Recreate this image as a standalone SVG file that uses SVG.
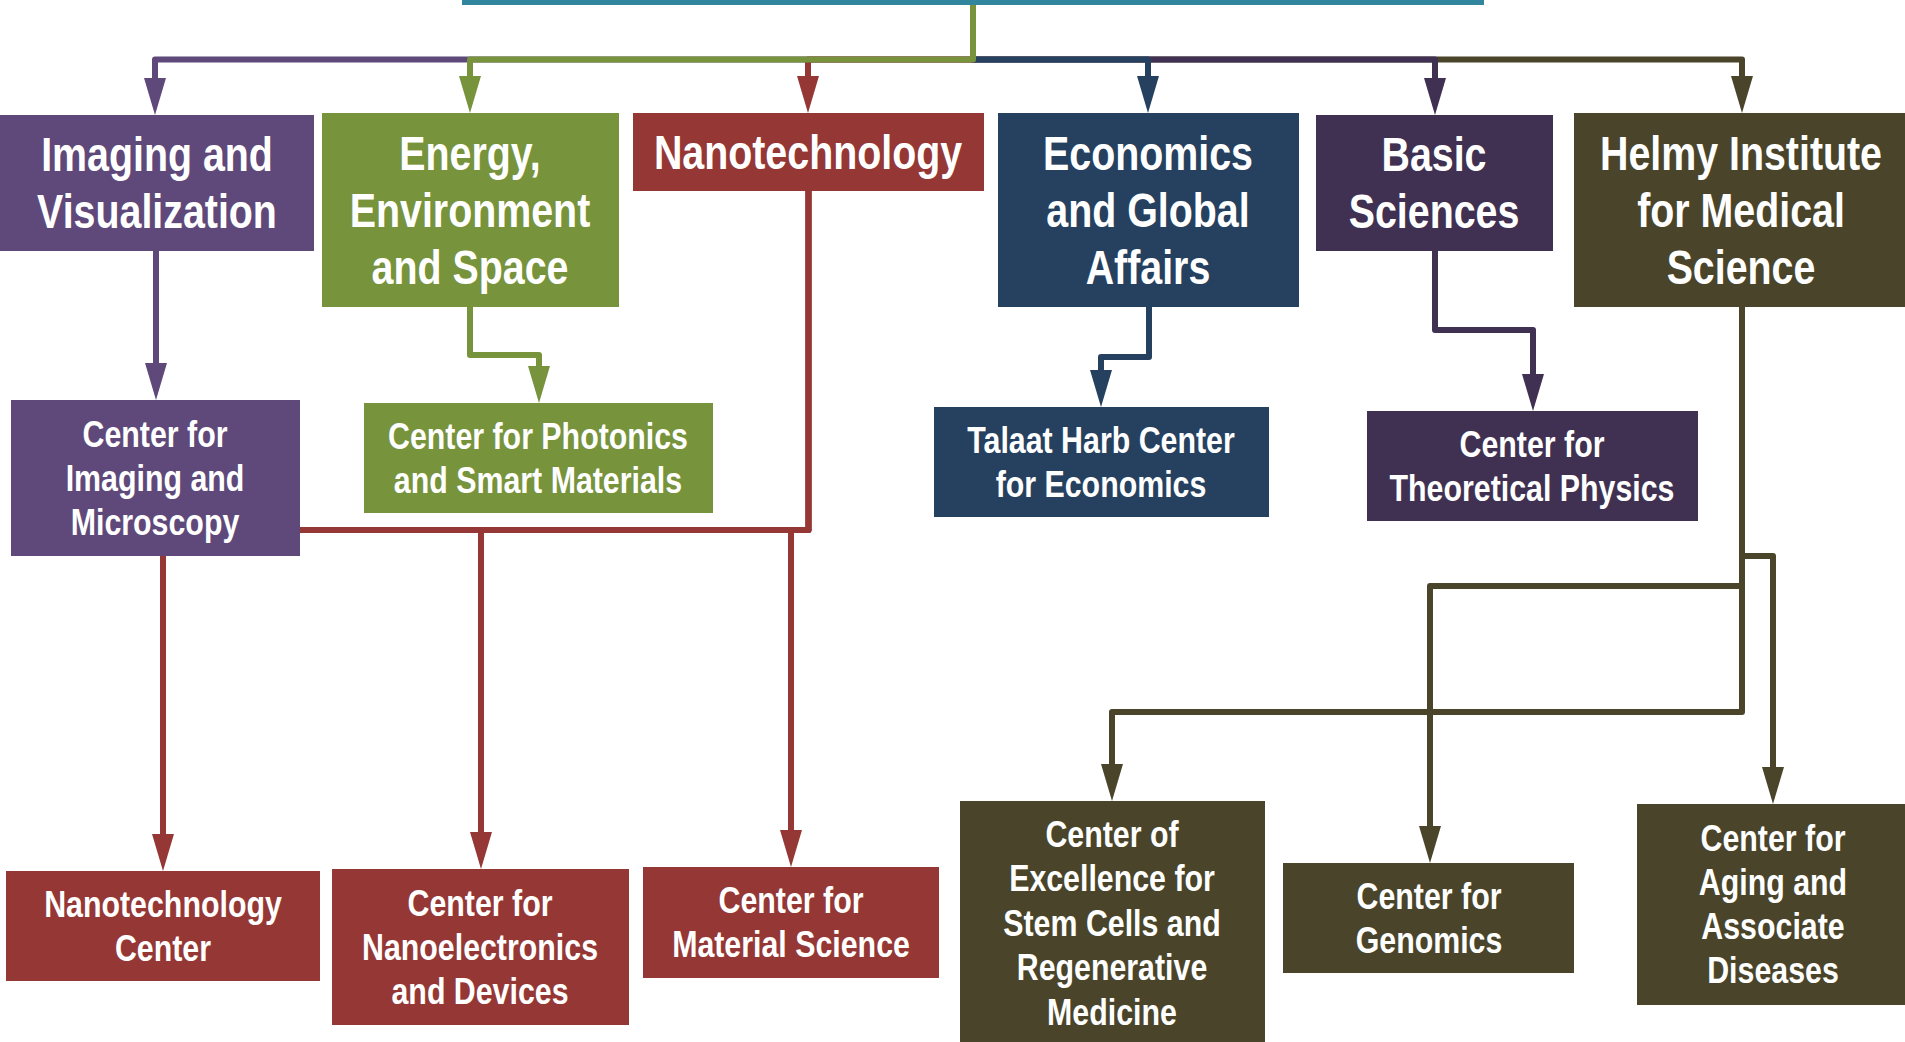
<svg xmlns="http://www.w3.org/2000/svg" width="1905" height="1042" viewBox="0 0 1905 1042">
<style>
text{font-family:"Liberation Sans",Arial,sans-serif;font-weight:bold;fill:#fff;text-anchor:middle}
.t1{font-size:48px}
.t2{font-size:37px}
.c{fill:none;stroke-width:6;stroke-linejoin:round}
.purple{fill:#5F497A}.green{fill:#77933C}.red{fill:#953735}.navy{fill:#264160}.dpur{fill:#403152}.olive{fill:#4A452A}.teal{fill:#31859C}
</style>
<defs>
<marker id="m-purple" markerUnits="userSpaceOnUse" markerWidth="37" markerHeight="22" viewBox="0 0 37 22" refX="0" refY="11" orient="auto"><path d="M0,0 L37,11 L0,22 z" fill="#5F497A"/></marker>
<marker id="m-green" markerUnits="userSpaceOnUse" markerWidth="37" markerHeight="22" viewBox="0 0 37 22" refX="0" refY="11" orient="auto"><path d="M0,0 L37,11 L0,22 z" fill="#77933C"/></marker>
<marker id="m-red" markerUnits="userSpaceOnUse" markerWidth="37" markerHeight="22" viewBox="0 0 37 22" refX="0" refY="11" orient="auto"><path d="M0,0 L37,11 L0,22 z" fill="#953735"/></marker>
<marker id="m-navy" markerUnits="userSpaceOnUse" markerWidth="37" markerHeight="22" viewBox="0 0 37 22" refX="0" refY="11" orient="auto"><path d="M0,0 L37,11 L0,22 z" fill="#264160"/></marker>
<marker id="m-dpur" markerUnits="userSpaceOnUse" markerWidth="37" markerHeight="22" viewBox="0 0 37 22" refX="0" refY="11" orient="auto"><path d="M0,0 L37,11 L0,22 z" fill="#403152"/></marker>
<marker id="m-olive" markerUnits="userSpaceOnUse" markerWidth="37" markerHeight="22" viewBox="0 0 37 22" refX="0" refY="11" orient="auto"><path d="M0,0 L37,11 L0,22 z" fill="#4A452A"/></marker>
</defs>

<g id="connectors">
  <path class="c" stroke="#5F497A" marker-end="url(#m-purple)" d="M973,5 V59.5 H155 V78"/>
  <path class="c" stroke="#4A452A" marker-end="url(#m-olive)" d="M973,5 V59.5 H1742 V76"/>
  <path class="c" stroke="#953735" marker-end="url(#m-red)" d="M973,5 V59.5 H808 V76"/>
  <path class="c" stroke="#403152" marker-end="url(#m-dpur)" d="M973,5 V59.5 H1435 V78"/>
  <path class="c" stroke="#264160" marker-end="url(#m-navy)" d="M973,5 V59.5 H1148 V76"/>
  <path class="c" stroke="#77933C" marker-end="url(#m-green)" d="M973,5 V59.5 H470 V76"/>

  <path class="c" stroke="#5F497A" marker-end="url(#m-purple)" d="M156,251 V363"/>
  <path class="c" stroke="#77933C" marker-end="url(#m-green)" d="M470,307 V355 H539 V366"/>
  <path class="c" stroke="#953735" marker-end="url(#m-red)" d="M808.5,191 V530 H163 V834"/>
  <path class="c" stroke="#953735" marker-end="url(#m-red)" d="M808.5,191 V530 H481 V832"/>
  <path class="c" stroke="#953735" marker-end="url(#m-red)" d="M808.5,191 V530 H791 V830"/>
  <path class="c" stroke="#264160" marker-end="url(#m-navy)" d="M1149,307 V357 H1101 V370"/>
  <path class="c" stroke="#403152" marker-end="url(#m-dpur)" d="M1435,251 V330 H1533 V374"/>
  <path class="c" stroke="#4A452A" marker-end="url(#m-olive)" d="M1742,307 V712 H1112 V764"/>
  <path class="c" stroke="#4A452A" marker-end="url(#m-olive)" d="M1742,307 V556 H1773 V767"/>
  <path class="c" stroke="#4A452A" marker-end="url(#m-olive)" d="M1742,307 V586 H1430 V826"/>
</g>

<g id="root"><rect class="teal" x="462" y="-20" width="1022" height="25"/></g>

<g id="imaging"><rect class="purple" x="0" y="115" width="314" height="136"/>
  <g transform="translate(157,0) scale(0.82,1)"><text class="t1" x="0" y="171.5">Imaging and</text><text class="t1" x="0" y="228.5">Visualization</text></g></g>
<g id="energy"><rect class="green" x="322" y="113" width="297" height="194"/>
  <g transform="translate(470,0) scale(0.82,1)"><text class="t1" x="0" y="170">Energy,</text><text class="t1" x="0" y="227">Environment</text><text class="t1" x="0" y="284">and Space</text></g></g>
<g id="nanotechnology"><rect class="red" x="633" y="113" width="351" height="78"/>
  <g transform="translate(808,0) scale(0.82,1)"><text class="t1" x="0" y="169">Nanotechnology</text></g></g>
<g id="economics"><rect class="navy" x="998" y="113" width="301" height="194"/>
  <g transform="translate(1148,0) scale(0.82,1)"><text class="t1" x="0" y="170">Economics</text><text class="t1" x="0" y="227">and Global</text><text class="t1" x="0" y="284">Affairs</text></g></g>
<g id="basic"><rect class="dpur" x="1316" y="115" width="237" height="136"/>
  <g transform="translate(1434,0) scale(0.82,1)"><text class="t1" x="0" y="171.5">Basic</text><text class="t1" x="0" y="228.5">Sciences</text></g></g>
<g id="helmy"><rect class="olive" x="1574" y="113" width="340" height="194"/>
  <g transform="translate(1741,0) scale(0.82,1)"><text class="t1" x="0" y="170">Helmy Institute</text><text class="t1" x="0" y="227">for Medical</text><text class="t1" x="0" y="284">Science</text></g></g>

<g id="microscopy"><rect class="purple" x="11" y="400" width="289" height="156"/>
  <g transform="translate(155,0) scale(0.82,1)"><text class="t2" x="0" y="447">Center for</text><text class="t2" x="0" y="491">Imaging and</text><text class="t2" x="0" y="535">Microscopy</text></g></g>
<g id="photonics"><rect class="green" x="364" y="403" width="349" height="110"/>
  <g transform="translate(538,0) scale(0.82,1)"><text class="t2" x="0" y="449">Center for Photonics</text><text class="t2" x="0" y="493">and Smart Materials</text></g></g>
<g id="talaat"><rect class="navy" x="934" y="407" width="335" height="110"/>
  <g transform="translate(1101,0) scale(0.82,1)"><text class="t2" x="0" y="453">Talaat Harb Center</text><text class="t2" x="0" y="497">for Economics</text></g></g>
<g id="theoretical"><rect class="dpur" x="1367" y="411" width="331" height="110"/>
  <g transform="translate(1532,0) scale(0.82,1)"><text class="t2" x="0" y="457">Center for</text><text class="t2" x="0" y="501">Theoretical Physics</text></g></g>

<g id="nanocenter"><rect class="red" x="6" y="871" width="314" height="110"/>
  <g transform="translate(163,0) scale(0.82,1)"><text class="t2" x="0" y="917">Nanotechnology</text><text class="t2" x="0" y="961">Center</text></g></g>
<g id="nanoelectronics"><rect class="red" x="332" y="869" width="297" height="156"/>
  <g transform="translate(480,0) scale(0.82,1)"><text class="t2" x="0" y="916">Center for</text><text class="t2" x="0" y="960">Nanoelectronics</text><text class="t2" x="0" y="1004">and Devices</text></g></g>
<g id="material"><rect class="red" x="643" y="867" width="296" height="111"/>
  <g transform="translate(791,0) scale(0.82,1)"><text class="t2" x="0" y="913.5">Center for</text><text class="t2" x="0" y="957.5">Material Science</text></g></g>
<g id="stemcells"><rect class="olive" x="960" y="801" width="305" height="260"/>
  <g transform="translate(1112,0) scale(0.82,1)"><text class="t2" x="0" y="847">Center of</text><text class="t2" x="0" y="891.5">Excellence for</text><text class="t2" x="0" y="936">Stem Cells and</text><text class="t2" x="0" y="980.5">Regenerative</text><text class="t2" x="0" y="1025">Medicine</text></g></g>
<g id="genomics"><rect class="olive" x="1283" y="863" width="291" height="110"/>
  <g transform="translate(1429,0) scale(0.82,1)"><text class="t2" x="0" y="909">Center for</text><text class="t2" x="0" y="953">Genomics</text></g></g>
<g id="aging"><rect class="olive" x="1637" y="804" width="280" height="201"/>
  <g transform="translate(1773,0) scale(0.82,1)"><text class="t2" x="0" y="851.5">Center for</text><text class="t2" x="0" y="895.5">Aging and</text><text class="t2" x="0" y="939.5">Associate</text><text class="t2" x="0" y="983.5">Diseases</text></g></g>
</svg>
